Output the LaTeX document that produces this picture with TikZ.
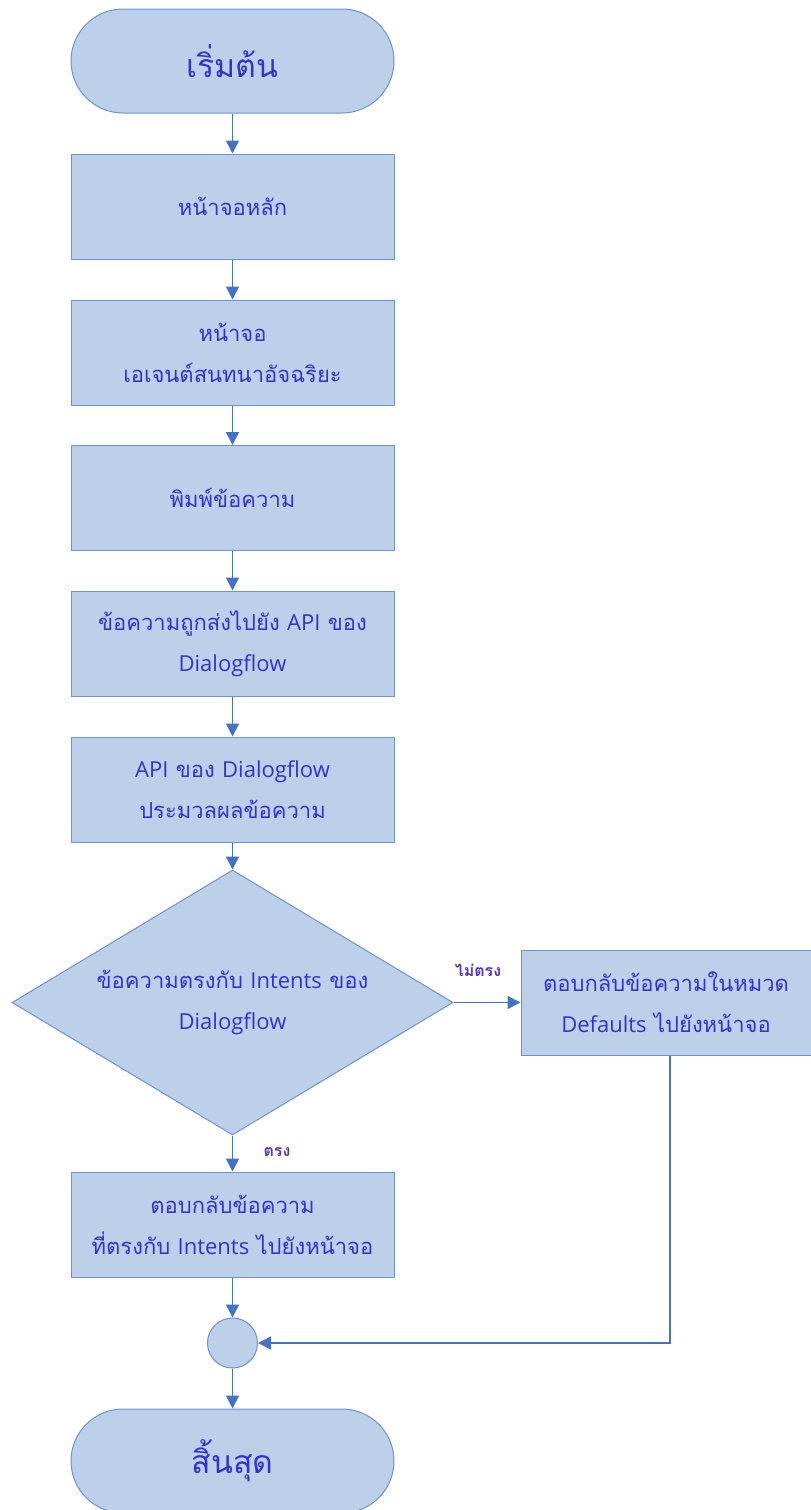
\documentclass[tikz,border=0pt]{standalone}
\usepackage{fontspec}
\setmainfont[Script=Thai]{Loma}
\newfontfamily\latinf{Open Sans}
\usetikzlibrary{arrows.meta,shapes.geometric}
\definecolor{boxfill}{RGB}{188,208,234}
\definecolor{boxline}{RGB}{110,145,210}
\definecolor{arrowc}{RGB}{68,114,196}
\definecolor{txt}{RGB}{51,51,204}
\definecolor{lbl}{RGB}{90,50,190}
\tikzset{
  x=1pt,y=-1pt,
  base/.style={fill=boxfill,draw=boxline,line width=1pt,text=txt,align=center,inner sep=0pt,
    font=\fontsize{22}{41}\selectfont},
  procbox/.style={base,rectangle,minimum width=323pt,minimum height=105pt},
  termbox/.style={base,rectangle,rounded corners=52pt,minimum width=323pt,minimum height=104pt,
    font=\fontsize{32}{36}\selectfont},
  decbox/.style={base,diamond,minimum width=441pt,minimum height=265pt,aspect=1.66},
  joinc/.style={base,circle,minimum size=50pt},
  conn/.style={draw=arrowc,line width=1.6pt,-{Triangle[length=13pt,width=13pt]}},
  edgelbl/.style={text=lbl,font=\bfseries\fontsize{16}{18}\selectfont,inner sep=0pt}
}
\newcommand{\La}[1]{{\latinf #1}}
\begin{document}
\begin{tikzpicture}
\useasboundingbox (0,0) rectangle (811,1510);
\node[termbox] (start) at (232.5,61) {เริ่มต้น};
\node[procbox] (b1) at (232.5,206.5) {หน้าจอหลัก};
\node[procbox] (b2) at (232.5,352.5) {หน้าจอ\\เอเจนต์สนทนาอัจฉริยะ};
\node[procbox] (b3) at (232.5,498) {พิมพ์ข้อความ};
\node[procbox] (b4) at (232.5,643.5) {ข้อความถูกส่งไปยัง \La{API} ของ\\\La{Dialogflow}};
\node[procbox] (b5) at (232.5,789.5) {\La{API} ของ \La{Dialogflow}\\ประมวลผลข้อความ};
\node[decbox] (d1) at (232.5,1002.5) {ข้อความตรงกับ \La{Intents} ของ\\\La{Dialogflow}};
\node[procbox,minimum width=290pt] (r1) at (666,1002.5) {ตอบกลับข้อความในหมวด\\\La{Defaults} ไปยังหน้าจอ};
\node[procbox] (b6) at (232.5,1224.5) {ตอบกลับข้อความ\\ที่ตรงกับ \La{Intents} ไปยังหน้าจอ};
\node[joinc] (j1) at (232.5,1343) {};
\node[termbox] (end) at (232.5,1461) {สิ้นสุด};
\coordinate (rc) at (670,1343);
\draw[conn] (start) -- (b1);
\draw[conn] (b1) -- (b2);
\draw[conn] (b2) -- (b3);
\draw[conn] (b3) -- (b4);
\draw[conn] (b4) -- (b5);
\draw[conn] (b5) -- (d1);
\draw[conn] (d1.east) -- (r1.west);
\draw[conn] (d1.south) -- (b6.north);
\draw[conn] (b6) -- (j1);
\draw[conn] (j1) -- (end);
\draw[conn] (r1.south -| rc) -- (rc) -- (j1.east);
\node[edgelbl] (l1) at (478,970) {ไม่ตรง};
\node[edgelbl] (l2) at (277,1152) {ตรง};
\end{tikzpicture}
\end{document}
